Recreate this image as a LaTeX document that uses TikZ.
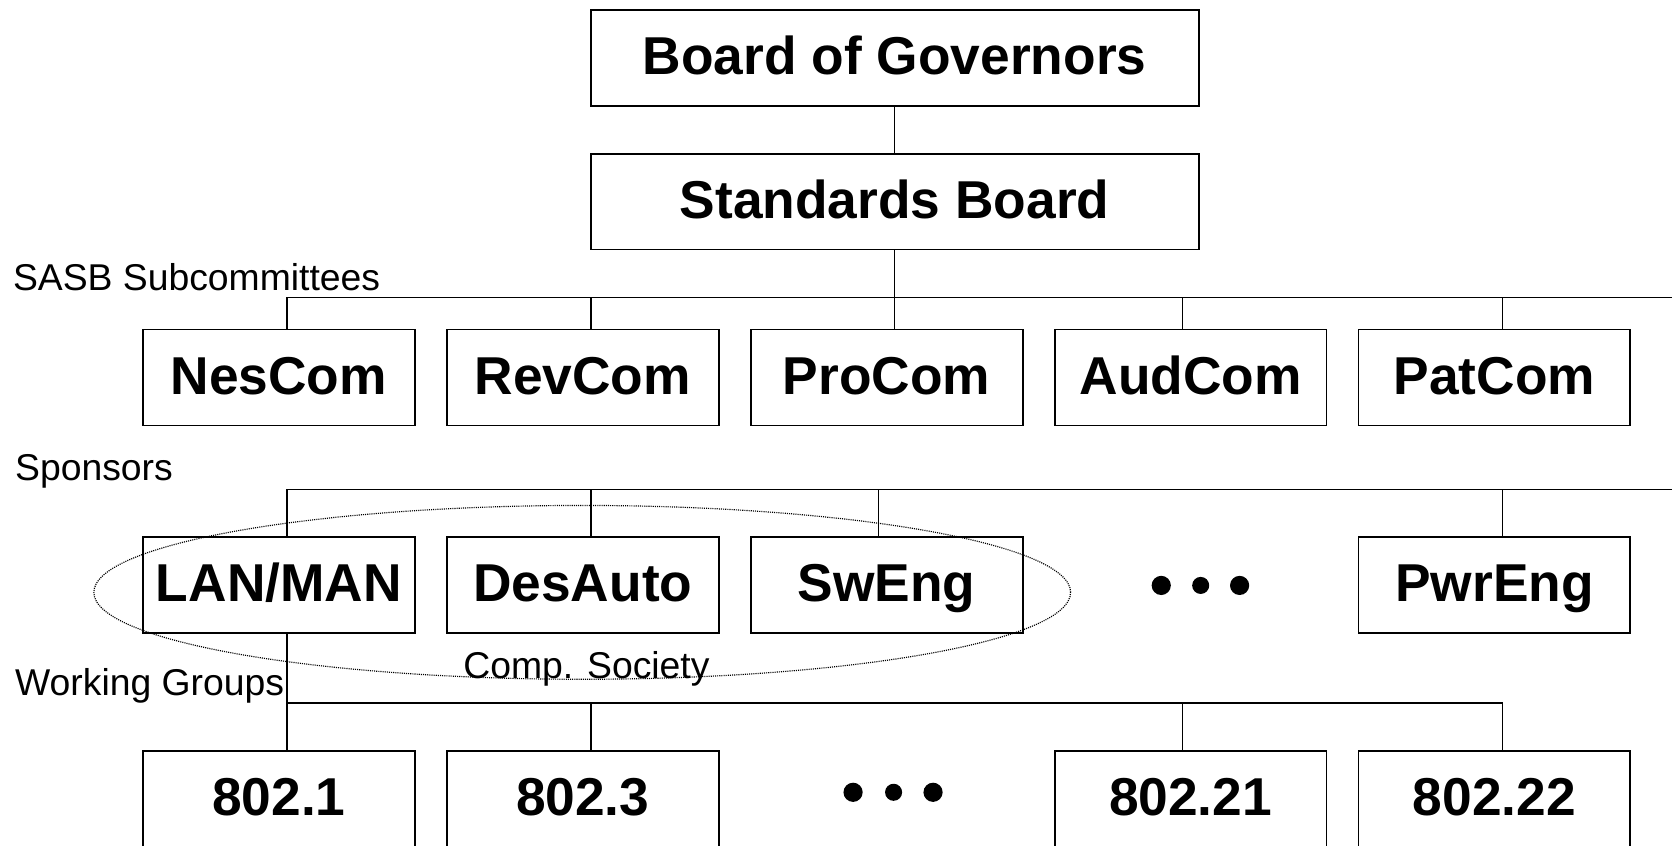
\documentclass[tikz,border=0pt]{standalone}
\usepackage{fontspec}
\setmainfont{Liberation Sans}
\begin{document}
\begin{tikzpicture}[x=1pt,y=-1pt,
  box/.style={draw,line width=1.8pt,minimum width=255pt,minimum height=90pt,inner sep=0pt,
    font=\fontsize{50}{60}\selectfont\bfseries,text height=31pt,text depth=0pt},
  widebox/.style={box,minimum width=570pt},
  lbl/.style={font=\fontsize{35}{42}\selectfont,inner sep=0pt,anchor=base west},
  conn/.style={line width=1.5pt},
  dotmark/.style={circle,fill=black,draw=none,inner sep=0pt,minimum size=#1},
  society/.style={line width=1.1pt,dash pattern=on 1pt off 1pt}]
\clip (0,0) rectangle (1568,793);
% boxes
\node[widebox] (bog) at (839,54) {Board of Governors};
\node[widebox] (sb) at (839,189) {Standards Board};
\node[box] (nes) at (261.5,354) {NesCom};
\node[box] (rev) at (546.5,354) {RevCom};
\node[box] (pro) at (831.5,354) {ProCom};
\node[box] (aud) at (1116.5,354) {AudCom};
\node[box] (pat) at (1401.5,354) {PatCom};
\node[box] (lan) at (261.5,549) {LAN/MAN};
\node[box] (des) at (546.5,549) {DesAuto};
\node[box] (sw) at (831.5,549) {SwEng};
\node[box] (pwr) at (1401.5,549) {PwrEng};
\node[box] (w1) at (261.5,749) {802.1};
\node[box] (w3) at (546.5,749) {802.3};
\node[box] (w21) at (1116.5,749) {802.21};
\node[box] (w22) at (1401.5,749) {802.22};
% ellipsis dots
\node[dotmark=18pt] (da1) at (1089,549) {};
\node[dotmark=16pt] (da2) at (1126,549) {};
\node[dotmark=18pt] (da3) at (1162.5,549) {};
\node[dotmark=18pt] (db1) at (800,743) {};
\node[dotmark=16pt] (db2) at (838,743) {};
\node[dotmark=18pt] (db3) at (875,743) {};
% labels
\node[lbl] (sasb) at (12,272) {SASB Subcommittees};
\node[lbl] (spon) at (14,451) {Sponsors};
\node[lbl] (wg) at (14,652) {Working Groups};
\node[font=\fontsize{35}{42}\selectfont,inner sep=0pt,anchor=base] (cs) at (550,636) {Comp. Society};
% connectors
\draw[conn] (bog) -- (sb);
\coordinate (e1) at (1568,279);
\draw[conn] (sb.south) -- (sb.south |- e1);
\draw[conn] ([xshift=7.5pt]nes.north) |- (e1);
\draw[conn] ([xshift=7.5pt]rev.north) -- ([xshift=7.5pt]rev.north |- e1);
\draw[conn] ([xshift=7.5pt]pro.north) -- ([xshift=7.5pt]pro.north |- e1);
\draw[conn] ([xshift=-7.5pt]aud.north) -- ([xshift=-7.5pt]aud.north |- e1);
\draw[conn] ([xshift=7.5pt]pat.north) -- ([xshift=7.5pt]pat.north |- e1);
\coordinate (e2) at (1568,459);
\draw[conn] ([xshift=7.5pt]lan.north) |- (e2);
\draw[conn] ([xshift=7.5pt]des.north) -- ([xshift=7.5pt]des.north |- e2);
\draw[conn] ([xshift=-7.5pt]sw.north) -- ([xshift=-7.5pt]sw.north |- e2);
\draw[conn] ([xshift=7.5pt]pwr.north) -- ([xshift=7.5pt]pwr.north |- e2);
\coordinate (b3) at (0,659);
\draw[conn] ([xshift=7.5pt]lan.south) -- ([xshift=7.5pt]w1.north);
\draw[conn] ([xshift=7.5pt]lan.south |- b3) -- ([xshift=7.5pt]w22.north |- b3) -- ([xshift=7.5pt]w22.north);
\draw[conn] ([xshift=7.5pt]w3.north) -- ([xshift=7.5pt]w3.north |- b3);
\draw[conn] ([xshift=-7.5pt]w21.north) -- ([xshift=-7.5pt]w21.north |- b3);
% computer society grouping
\draw[society] (546,555.5) ellipse [x radius=458pt, y radius=81.5pt];
\end{tikzpicture}
\end{document}
